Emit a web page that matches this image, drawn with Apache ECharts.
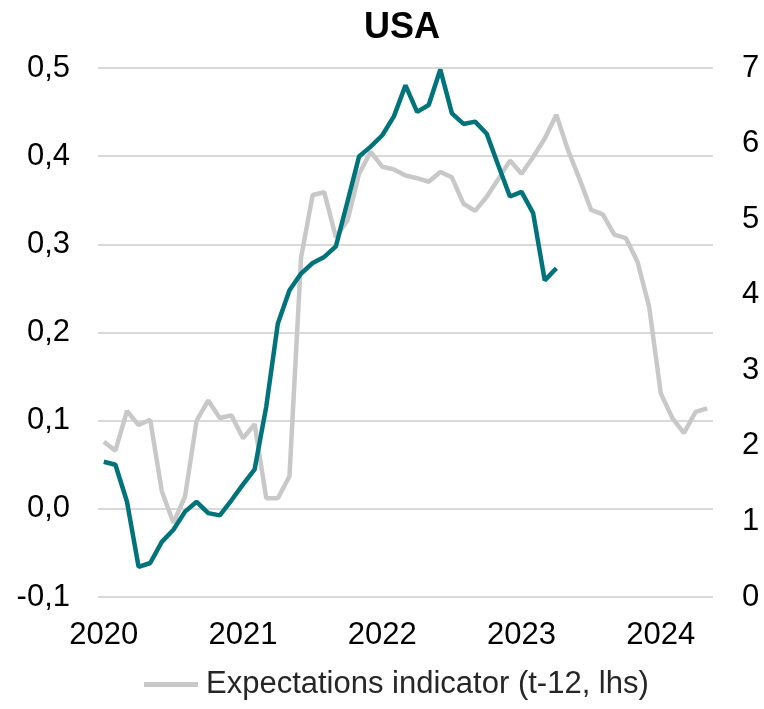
<!DOCTYPE html>
<html>
<head>
<meta charset="utf-8">
<script src="https://cdn.jsdelivr.net/npm/echarts@6/dist/echarts.min.js"></script>
<style>
  html, body { margin: 0; padding: 0; background: #fff; }
  #chart { width: 764px; height: 709px; }
</style>
</head>
<body>
<div id="chart"></div>
<script>
// monthly categories, Jan 2020 .. May 2024
var months = [];
for (var y = 2020; y <= 2024; y++) {
  for (var m = 1; m <= 12; m++) {
    if (y === 2024 && m > 5) break;
    months.push(y + "-" + (m < 10 ? "0" + m : m));
  }
}

// expectations indicator (t-12), left axis
var expectations = [
  0.076, 0.066, 0.111, 0.095, 0.101, 0.020, -0.016, 0.014, 0.100, 0.123, 0.103, 0.106,
  0.080, 0.096, 0.012, 0.012, 0.037, 0.285, 0.356, 0.359, 0.308, 0.327, 0.380, 0.405,
  0.388, 0.385, 0.378, 0.375, 0.371, 0.382, 0.376, 0.346, 0.338, 0.354, 0.374, 0.395,
  0.380, 0.399, 0.420, 0.447, 0.407, 0.374, 0.339, 0.334, 0.311, 0.307, 0.280, 0.229,
  0.131, 0.103, 0.086, 0.110, 0.114
];

// inflation, right axis (ends Apr 2023)
var inflation = [
  1.79, 1.75, 1.26, 0.40, 0.45, 0.73, 0.89, 1.13, 1.26, 1.11, 1.08, 1.28,
  1.49, 1.69, 2.52, 3.62, 4.06, 4.28, 4.42, 4.50, 4.64, 5.23, 5.83, 5.96,
  6.11, 6.36, 6.77, 6.42, 6.51, 6.98, 6.40, 6.26, 6.29, 6.13, 5.71, 5.30,
  5.36, 5.08, 4.19, 4.35
];

var chart = echarts.init(document.getElementById("chart"));

var option = {
  animation: false,
  textStyle: { fontFamily: "Liberation Sans, Arial, sans-serif" },
  title: {
    text: "USA",
    left: 359,
    top: 5,
    textStyle: { fontSize: 36, fontWeight: "bold", color: "#000" }
  },
  legend: {
    data: ["Expectations indicator (t-12, lhs)"],
    bottom: 4,
    left: 139,
    icon: "rect",
    itemWidth: 54,
    itemHeight: 5,
    itemGap: 10,
    textStyle: { fontSize: 31, color: "#262626", padding: [0, 0, 0, 3] }
  },
  grid: { left: 98, right: 51, top: 68, bottom: 112, outerBoundsMode: "none" },
  xAxis: {
    type: "category",
    data: months,
    boundaryGap: true,
    axisLine: { show: false },
    axisTick: { show: false },
    axisLabel: {
      interval: function (idx) { return idx % 12 === 0; },
      formatter: function (v) { return v.slice(0, 4); },
      fontSize: 31,
      color: "#000",
      margin: 23
    }
  },
  yAxis: [
    {
      type: "value",
      min: -0.1,
      max: 0.5,
      interval: 0.1,
      axisLine: { show: false },
      axisTick: { show: false },
      splitLine: { lineStyle: { color: "#d9d9d9", width: 2 } },
      axisLabel: {
        fontSize: 31,
        color: "#000",
        margin: 28,
        formatter: function (v) { return (Math.round(v * 10) / 10).toFixed(1).replace(".", ","); }
      }
    },
    {
      type: "value",
      position: "right",
      min: 0,
      max: 7,
      interval: 1,
      axisLine: { show: false },
      axisTick: { show: false },
      splitLine: { show: false },
      axisLabel: { fontSize: 31, color: "#000", margin: 29, align: "left" }
    }
  ],
  series: [
    {
      name: "Expectations indicator (t-12, lhs)",
      type: "line",
      yAxisIndex: 0,
      data: expectations,
      showSymbol: false,
      itemStyle: { color: "#c8c8c8" },
      lineStyle: { color: "#c8c8c8", width: 4.5 }
    },
    {
      name: "Inflation (rhs)",
      type: "line",
      yAxisIndex: 1,
      data: inflation,
      showSymbol: false,
      itemStyle: { color: "#00737b" },
      lineStyle: { color: "#00737b", width: 4.5 }
    }
  ]
};

chart.setOption(option);
</script>
</body>
</html>
